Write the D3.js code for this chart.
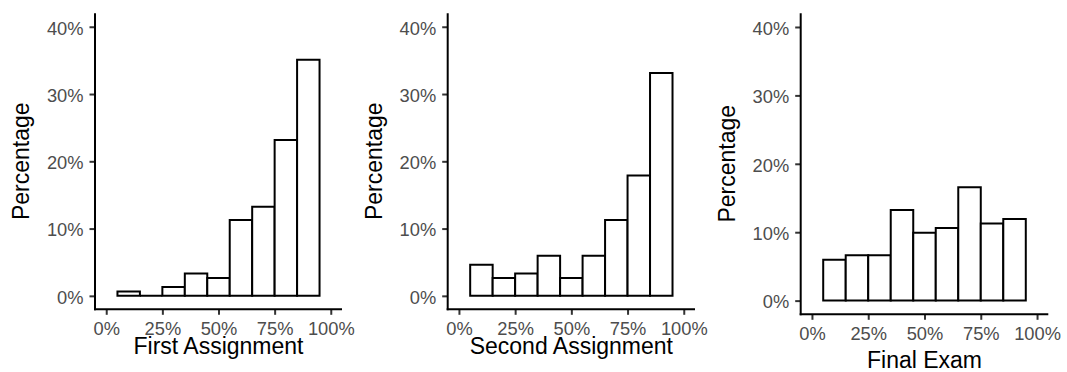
<!DOCTYPE html>
<html>
<head>
<meta charset="utf-8">
<script src="https://cdn.jsdelivr.net/npm/d3@7"></script>
<style>
  html, body { margin: 0; padding: 0; background: #fff; }
  svg { display: block; font-family: "Liberation Sans", Arial, Helvetica, sans-serif; }
</style>
</head>
<body>
<svg id="chart" width="1067" height="372"></svg>
<script>
// Histogram bins (score ranges, in percent) shared by all three panels
const binStarts = [5, 15, 25, 35, 45, 55, 65, 75, 85];
const binWidth = 10;

// Share of students per bin (percent)
const firstAssignment  = [0.66, 0, 1.32, 3.31, 2.65, 11.26, 13.25, 23.18, 35.10];
const secondAssignment = [4.64, 2.65, 3.31, 5.96, 2.65, 5.96, 11.26, 17.88, 33.11];
const finalExam        = [5.96, 6.62, 6.62, 13.25, 9.93, 10.60, 16.56, 11.26, 11.92];

// Axis ticks
const xTicks = [0, 25, 50, 75, 100];
const yTicks = [0, 10, 20, 30, 40];
const xTickLabels = ["0%", "25%", "50%", "75%", "100%"];
const yTickLabels = ["0%", "10%", "20%", "30%", "40%"];

const panelTitles = ["First Assignment", "Second Assignment", "Final Exam"];
const yTitle = "Percentage";

// Panel frames: plotting area in page pixels
const panels = [
  { values: firstAssignment,  left: 95,    right: 342,    top: 13.3, bottom: 309.3, yTitleX: 29,  xTitleY: 353.5 },
  { values: secondAssignment, left: 447.7, right: 695,    top: 13.3, bottom: 309.3, yTitleX: 382, xTitleY: 353.5 },
  { values: finalExam,        left: 800.7, right: 1048.3, top: 13.3, bottom: 314.3, yTitleX: 735, xTitleY: 367.5 }
];

const svg = d3.select("#chart");
const tickLen = 5.5;
const tickFont = 18.3;
const titleFont = 23;

panels.forEach((p, i) => {
  const x = d3.scaleLinear().domain([-5, 105]).range([p.left, p.right]);
  const y = d3.scaleLinear().domain([-2, 42]).range([p.bottom, p.top]);
  const g = svg.append("g");

  // bars
  g.selectAll("path.bar")
    .data(binStarts.map((s, k) => ({ x0: s, x1: s + binWidth, v: p.values[k] })))
    .join("path")
    .attr("class", "bar")
    .attr("d", d => `M${x(d.x0)},${y(0)}H${x(d.x1)}V${y(d.v)}H${x(d.x0)}Z`)
    .attr("fill", "#fff")
    .attr("stroke", "#000")
    .attr("stroke-width", 2)
    .attr("stroke-linejoin", "miter");

  // y axis
  const yAxis = d3.axisLeft(y)
    .tickValues(yTicks)
    .tickFormat((d, k) => yTickLabels[k])
    .tickSize(tickLen)
    .tickPadding(6);
  const ya = g.append("g").attr("transform", `translate(${p.left},0)`).call(yAxis);
  ya.select(".domain").remove();
  ya.selectAll(".tick line").attr("stroke", "#333").attr("stroke-width", 2);
  ya.selectAll(".tick text").attr("fill", "#4D4D4D").attr("font-size", tickFont).attr("dy", "0.4em");

  // x axis
  const xAxis = d3.axisBottom(x)
    .tickValues(xTicks)
    .tickFormat((d, k) => xTickLabels[k])
    .tickSize(tickLen)
    .tickPadding(7);
  const xa = g.append("g").attr("transform", `translate(0,${p.bottom})`).call(xAxis);
  xa.select(".domain").remove();
  xa.selectAll(".tick line").attr("stroke", "#333").attr("stroke-width", 2);
  xa.selectAll(".tick text").attr("fill", "#4D4D4D").attr("font-size", tickFont);

  // axis lines spanning the full panel
  g.append("line")
    .attr("x1", p.left).attr("x2", p.left)
    .attr("y1", p.top).attr("y2", p.bottom + 1)
    .attr("stroke", "#000").attr("stroke-width", 2);
  g.append("line")
    .attr("x1", p.left - 1).attr("x2", p.right)
    .attr("y1", p.bottom).attr("y2", p.bottom)
    .attr("stroke", "#000").attr("stroke-width", 2);

  // titles
  g.append("text")
    .attr("x", (p.left + p.right) / 2)
    .attr("y", p.xTitleY)
    .attr("text-anchor", "middle")
    .attr("font-size", titleFont)
    .attr("fill", "#000")
    .text(panelTitles[i]);

  g.append("text")
    .attr("transform", `translate(${p.yTitleX},${(p.top + p.bottom) / 2}) rotate(-90)`)
    .attr("text-anchor", "middle")
    .attr("font-size", titleFont)
    .attr("fill", "#000")
    .text(yTitle);
});
</script>
</body>
</html>
